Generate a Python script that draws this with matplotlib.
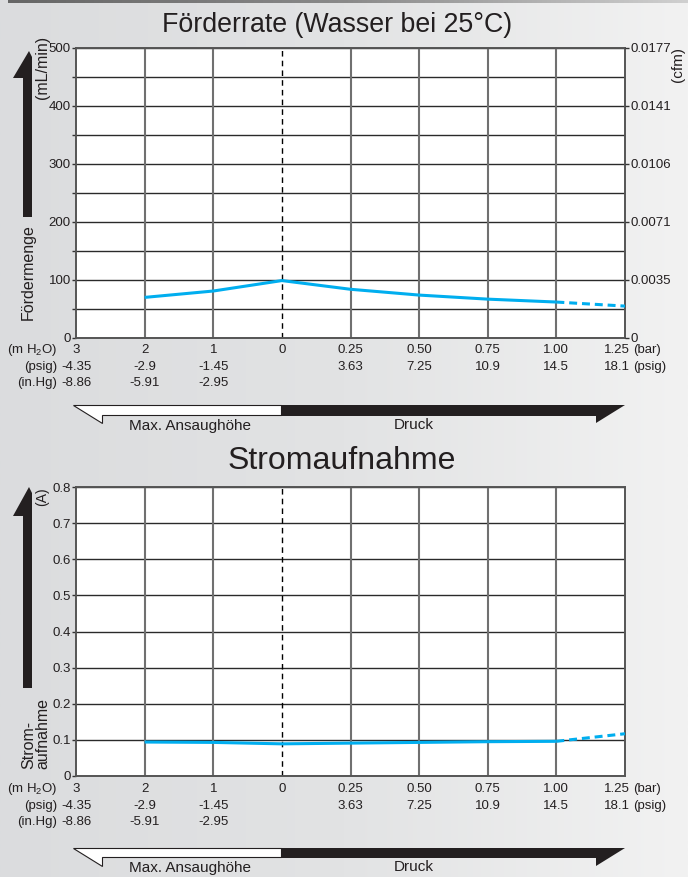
import numpy as np
import matplotlib
matplotlib.use("Agg")
import matplotlib.pyplot as plt
from matplotlib.colors import LinearSegmentedColormap
from matplotlib.patches import Polygon
from matplotlib.transforms import offset_copy

plt.rcParams['font.family'] = ['Liberation Sans', 'DejaVu Sans']
plt.rcParams['mathtext.fontset'] = 'custom'
plt.rcParams['mathtext.rm'] = 'Liberation Sans'

# ---------------- data ----------------
positions = [0, 1, 2, 3, 4, 5, 6, 7, 8]
row_mh2o = ['3', '2', '1', '0', '0.25', '0.50', '0.75', '1.00', '']
row_psig = ['-4.35', '-2.9', '-1.45', '', '3.63', '7.25', '10.9', '14.5', '']
row_inhg = ['-8.86', '-5.91', '-2.95', '', '', '', '', '', '']
last_bar = '1.25'
last_psig = '18.1'

flow = [np.nan, 70, 81, 99, 84, 74, 67, 62, 55]          # mL/min
current = [np.nan, 0.094, 0.093, 0.089, 0.091, 0.093, 0.095, 0.096, 0.117]  # A

flow_ticks = [0, 50, 100, 150, 200, 250, 300, 350, 400, 450, 500]
flow_ticklabels = ['0', '', '100', '', '200', '', '300', '', '400', '', '500']
cfm_ticks = [0, 100, 200, 300, 400, 500]
cfm_labels = ['0', '0.0035', '0.0071', '0.0106', '0.0141', '0.0177']
amp_ticks = [0, 0.1, 0.2, 0.3, 0.4, 0.5, 0.6, 0.7, 0.8]
amp_labels = ['0', '0.1', '0.2', '0.3', '0.4', '0.5', '0.6', '0.7', '0.8']

# ---------------- figure ----------------
W, H = 688, 877
fig = plt.figure(figsize=(W / 100, H / 100), dpi=100)

def fx(p):
    return p / W

def fy(p):
    return 1 - p / H

canvas = fig.add_axes([0, 0, 1, 1], zorder=0)
canvas.axis('off')
grad = np.linspace(0, 1, 256).reshape(1, -1)
canvas.imshow(grad, extent=[0, W, H, 0], aspect='auto',
              cmap=LinearSegmentedColormap.from_list('bg', ['#dbdcde', '#e2e3e4', '#f2f2f2']))
canvas.imshow(grad, extent=[8, W, 3.5, 0], aspect='auto',
              cmap=LinearSegmentedColormap.from_list('bar', ['#666666', '#8a8a8a', '#d0d0d0']))
canvas.set_xlim(0, W)
canvas.set_ylim(H, 0)

LINE = '#00aeef'
GRIDV = '#707070'
GRIDH = '#2a2a2a'
TXT = '#231f20'
TFS = 9.5

def style_axes(ax, yticks, ylabels, ylim):
    ax.set_facecolor('white')
    ax.set_xlim(0, 8)
    ax.set_ylim(*ylim)
    ax.set_xticks([])
    ax.set_yticks(yticks)
    ax.set_yticklabels(ylabels)
    ax.tick_params(axis='y', direction='out', length=3, width=1, pad=0.8,
                   labelsize=TFS, colors='#333333', labelcolor=TXT)
    for t in yticks:
        ax.axhline(t, color=GRIDH, lw=1.0, zorder=1)
    for i in positions[1:-1]:
        if i == 3:
            ax.axvline(i, color='black', lw=1.0, ls=(0, (4, 3)), zorder=1)
        else:
            ax.axvline(i, color=GRIDV, lw=1.5, zorder=1)
    for s in ax.spines.values():
        s.set_color('#555555')
        s.set_linewidth(1.4)

def x_rows(ax, y0):
    tr = ax.get_xaxis_transform()
    offs = [y0, y0 + 17, y0 + 33]
    rows = [row_mh2o, row_psig, row_inhg]
    for r, off in zip(rows, offs):
        t = offset_copy(tr, fig=fig, x=0, y=-off * 0.72, units='points')
        for p, lab in zip(positions, r):
            if lab:
                ax.text(p, 0, lab, transform=t, ha='center', va='center',
                        fontsize=TFS, color=TXT, clip_on=False)
    t1 = offset_copy(tr, fig=fig, x=5 * 0.72, y=-offs[0] * 0.72, units='points')
    t2 = offset_copy(tr, fig=fig, x=5 * 0.72, y=-offs[1] * 0.72, units='points')
    ax.text(8, 0, last_bar, transform=t1, ha='right', va='center', fontsize=TFS, color=TXT)
    ax.text(8, 0, last_psig, transform=t2, ha='right', va='center', fontsize=TFS, color=TXT)
    t1b = offset_copy(tr, fig=fig, x=8 * 0.72, y=-offs[0] * 0.72, units='points')
    t2b = offset_copy(tr, fig=fig, x=8 * 0.72, y=-offs[1] * 0.72, units='points')
    ax.text(8, 0, '(bar)', transform=t1b, ha='left', va='center', fontsize=TFS, color=TXT)
    ax.text(8, 0, '(psig)', transform=t2b, ha='left', va='center', fontsize=TFS, color=TXT)
    # left unit labels
    labs = ['(m H$_\\mathregular{2}$O)', '(psig)', '(in.Hg)']
    for lab, off in zip(labs, offs):
        t = offset_copy(ax.transAxes, fig=fig, x=-19 * 0.72, y=-off * 0.72, units='points')
        ax.text(0, 0, lab, transform=t, ha='right', va='center', fontsize=TFS, color=TXT)

def plot_series(ax, vals):
    ax.plot(positions[:8], vals[:8], color=LINE, lw=2.2, solid_capstyle='butt', zorder=3)
    ax.plot(positions[7:], vals[7:], color=LINE, lw=2.2, ls=(0, (2.6, 1.6)), zorder=3)

# ---------------- top chart ----------------
ax1 = fig.add_axes([fx(76), fy(338), (625 - 76) / W, (338 - 48) / H], zorder=2)
style_axes(ax1, flow_ticks, flow_ticklabels, (0, 500))
plot_series(ax1, flow)
ax1r = ax1.twinx()
ax1r.set_ylim(0, 500)
ax1r.set_yticks(cfm_ticks)
ax1r.set_yticklabels(cfm_labels)
ax1r.tick_params(axis='y', direction='out', length=3, width=1, pad=1,
                 labelsize=TFS, colors='#333333', labelcolor=TXT)
for s in ax1r.spines.values():
    s.set_visible(False)
x_rows(ax1, 12)

# ---------------- bottom chart ----------------
ax2 = fig.add_axes([fx(76), fy(776), (625 - 76) / W, (776 - 487) / H], zorder=2)
style_axes(ax2, amp_ticks, amp_labels, (0, 0.8))
plot_series(ax2, current)
x_rows(ax2, 13)

# ---------------- titles & labels ----------------
fig.text(fx(337), fy(32), 'Förderrate (Wasser bei 25°C)', ha='center', va='baseline',
         fontsize=19.3, color=TXT)
fig.text(fx(342), fy(469), 'Stromaufnahme', ha='center', va='baseline',
         fontsize=23, color=TXT)
fig.text(fx(28), fy(272), 'Fördermenge', rotation=90, ha='center', va='center',
         fontsize=11.5, color=TXT)
fig.text(fx(42.5), fy(67), '(mL/min)', rotation=90, ha='center', va='center',
         fontsize=11.5, color=TXT)
fig.text(fx(678), fy(64), '(cfm)', rotation=90, ha='center', va='center',
         fontsize=11, color=TXT)
fig.text(fx(36), fy(769), 'Strom-\naufnahme', rotation=90, ha='center', va='bottom',
         multialignment='left', linespacing=0.95, fontsize=11.5, color=TXT)
fig.text(fx(42), fy(497), '(A)', rotation=90, ha='center', va='center',
         fontsize=10, color=TXT)

# ---------------- arrows ----------------
DARK = '#231f20'
def vert_arrow(tip_y, base_y, end_y):
    pts = [(23, end_y), (23, base_y), (13, base_y), (29, tip_y), (32, tip_y + 6), (32, end_y)]
    canvas.add_patch(Polygon(pts, closed=True, fc=DARK, ec='none', zorder=3))

vert_arrow(51, 78, 217)
vert_arrow(487, 516, 688)

def horiz_arrows(top, wbot, bbot, tip):
    white = [(73, top), (281, top), (281, wbot), (102, wbot), (102, tip)]
    canvas.add_patch(Polygon(white, closed=True, fc='white', ec=DARK, lw=0.8, zorder=3))
    black = [(281, top), (625, top), (596, tip), (596, bbot), (281, bbot)]
    canvas.add_patch(Polygon(black, closed=True, fc=DARK, ec='none', zorder=3))

horiz_arrows(405, 415, 416, 423)
horiz_arrows(848, 857, 858, 866)

fig.text(fx(190), fy(426), 'Max. Ansaughöhe', ha='center', va='center', fontsize=11, color=TXT)
fig.text(fx(414), fy(425), 'Druck', ha='center', va='center', fontsize=11, color=TXT)
fig.text(fx(190), fy(868), 'Max. Ansaughöhe', ha='center', va='center', fontsize=11, color=TXT)
fig.text(fx(414), fy(867), 'Druck', ha='center', va='center', fontsize=11, color=TXT)

fig.savefig('out.png', dpi=100)
